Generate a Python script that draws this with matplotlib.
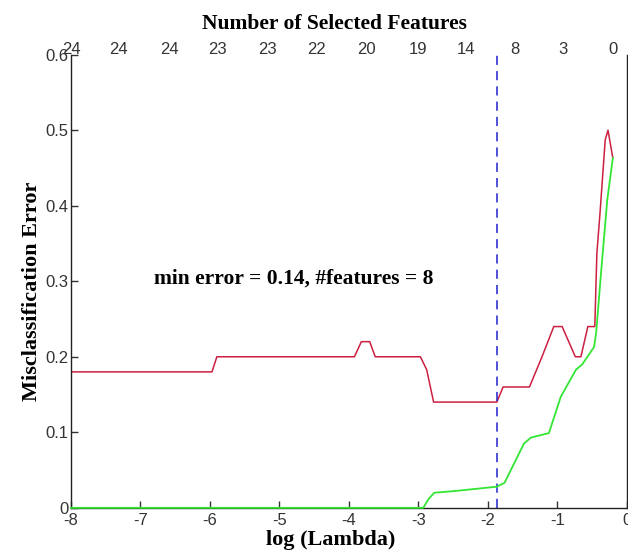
import numpy as np
import matplotlib
matplotlib.use("Agg")
import matplotlib.pyplot as plt

# cross-validated error (red) and training error (green) vs log(lambda)
cv_x = [-8, -5.97, -5.9, -3.92, -3.82, -3.7, -3.62, -2.97, -2.88, -2.78, -1.87, -1.78,
        -1.40, -1.22, -1.05, -0.93, -0.74, -0.66, -0.56, -0.46, -0.43, -0.385, -0.31,
        -0.27, -0.20]
cv_err = [0.18, 0.18, 0.20, 0.20, 0.22, 0.22, 0.20, 0.20, 0.183, 0.14, 0.14, 0.16,
          0.16, 0.20, 0.24, 0.24, 0.20, 0.20, 0.24, 0.24, 0.337, 0.39, 0.487,
          0.50, 0.463]
tr_x = [-8, -2.93, -2.85, -2.77, -2.45, -1.87, -1.76, -1.48, -1.38, -1.12, -0.95,
        -0.73, -0.64, -0.47, -0.44, -0.37, -0.28, -0.20]
tr_err = [0.0, 0.0, 0.012, 0.02, 0.0225, 0.028, 0.033, 0.085, 0.093, 0.099, 0.147,
          0.183, 0.19, 0.213, 0.232, 0.311, 0.408, 0.463]

best_x = -1.87
top_pos = [-8, -7.31, -6.58, -5.89, -5.17, -4.46, -3.75, -3.01, -2.32, -1.61, -0.92, -0.20]
top_labels = ['24', '24', '24', '23', '23', '22', '20', '19', '14', '8', '3', '0']

serif = 'Liberation Serif'
sans = 'Liberation Sans'

fig = plt.figure(figsize=(6.28, 5.52), dpi=100)
ax = fig.add_axes([0.113, 0.080, 0.885, 0.821])

ax.plot(cv_x, cv_err, color='#cc2040', lw=1.1)
ax.plot(tr_x, tr_err, color='#33e633', lw=1.3, clip_on=False, zorder=5)
ax.axvline(best_x, color='#2020cc', ls=(0, (6, 4)), lw=1.1)

ax.set_xlim(-8, 0)
ax.set_ylim(0, 0.6)
ax.set_xticks(range(-8, 1))
ax.set_xticklabels([str(v) for v in range(-8, 1)], fontfamily=sans, fontsize=12)
ax.set_yticks([0, 0.1, 0.2, 0.3, 0.4, 0.5, 0.6])
ax.set_yticklabels(['0', '0.1', '0.2', '0.3', '0.4', '0.5', '0.6'], fontfamily=sans, fontsize=12)
ax.tick_params(direction='in', length=5, width=1, colors='#333333', pad=2)
ax.tick_params(axis='x', pad=4)
ax.spines['top'].set_visible(False)
for s in ['left', 'bottom', 'right']:
    ax.spines[s].set_color('#222222')
    ax.spines[s].set_linewidth(1.0)

ax.set_xlabel('log (Lambda)', fontfamily=serif, fontweight='bold', fontsize=16, labelpad=1)
ax.xaxis.label.set_x(0.468)
ax.set_ylabel('Misclassification Error', fontfamily=serif, fontweight='bold', fontsize=16, labelpad=2)
ax.yaxis.label.set_y(0.477)

ax.text(-4.79, 0.303, 'min error = 0.14, #features = 8', fontfamily=serif,
        fontweight='bold', fontsize=15.5, ha='center', va='center')

ax2 = ax.twiny()
ax2.set_xlim(-8, 0)
ax2.set_xticks(top_pos)
ax2.set_xticklabels(top_labels, fontfamily=sans, fontsize=12)
ax2.tick_params(length=0, pad=-2, colors='#333333')
for s in ax2.spines.values():
    s.set_visible(False)
ax2.set_xlabel('Number of Selected Features', fontfamily=serif, fontweight='bold',
               fontsize=15.5, labelpad=10)
ax2.xaxis.label.set_x(0.474)

fig.savefig('out.png', dpi=100)
